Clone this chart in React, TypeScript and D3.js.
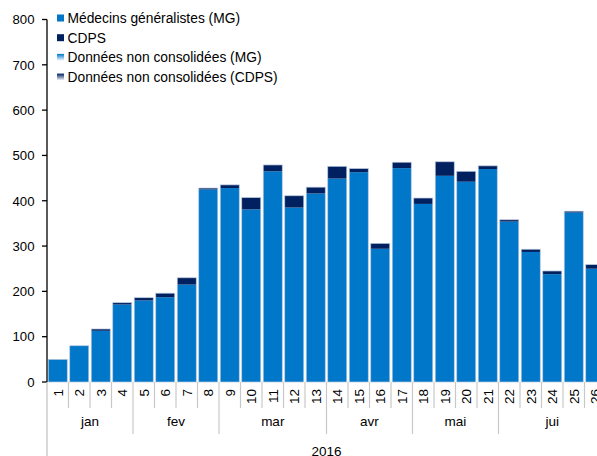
import * as d3 from 'd3';

const weeks = d3.range(1, 27).map(String);
const mgValues = [50, 80, 113, 171, 180, 187, 215, 425, 428, 381, 465, 385, 416, 449, 463, 294, 472, 393, 455, 442, 470, 354, 287, 238, 374, 250];
const cdpsValues = [0, 0, 4, 4, 6, 9, 15, 3, 7, 26, 14, 26, 14, 27, 8, 12, 13, 13, 31, 23, 7, 4, 6, 7, 3, 9];
const months = [
  { label: 'jan', from: 0, to: 4 },
  { label: 'fev', from: 4, to: 8 },
  { label: 'mar', from: 8, to: 13 },
  { label: 'avr', from: 13, to: 17 },
  { label: 'mai', from: 17, to: 21 },
  { label: 'jui', from: 21, to: 26 },
];
const yearLabel = '2016';
const yTicks = [0, 100, 200, 300, 400, 500, 600, 700, 800];
const legendItems = ['Médecins généralistes (MG)', 'CDPS', 'Données non consolidées (MG)', 'Données non consolidées (CDPS)'];

const MG = '#0077c8';
const CDPS = '#002060';
const FONT = '"Liberation Sans", Arial, sans-serif';

export default function App() {
  const width = 597;
  const height = 456;
  const x0 = 47;
  const step = 21.5;
  const x1 = x0 + step * weeks.length;

  const x = d3.scaleBand<string>().domain(weeks).range([x0, x1]).paddingInner(0.116).paddingOuter(0.058);
  const y = d3.scaleLinear().domain([0, 800]).range([382, 19.5]);
  const edge = (i: number) => x0 + i * x.step();

  return (
    <div style={{ position: 'absolute', left: 0, top: 0 }}>
      <svg width={width} height={height} style={{ display: 'block', fontFamily: FONT }}>
        <defs>
          <linearGradient id="gMG" x1="0" y1="0" x2="0" y2="1">
            <stop offset="0" stopColor={MG} />
            <stop offset="1" stopColor="#ffffff" />
          </linearGradient>
          <linearGradient id="gCDPS" x1="0" y1="0" x2="0" y2="1">
            <stop offset="0" stopColor={CDPS} />
            <stop offset="1" stopColor="#ffffff" />
          </linearGradient>
        </defs>

        {/* bars */}
        {weeks.map((w, i) => {
          const bx = x(w) || 0;
          const bw = x.bandwidth();
          const mgTop = y(mgValues[i]);
          const totTop = y(mgValues[i] + cdpsValues[i]);
          return (
            <g key={w}>
              <rect x={bx} y={mgTop} width={bw} height={y(0) - mgTop} fill={MG} />
              {cdpsValues[i] > 0 && (
                <rect x={bx} y={totTop} width={bw} height={mgTop - totTop} fill={CDPS} />
              )}
              <rect x={bx} y={totTop} width={bw} height={y(0) - totTop} fill="none" stroke="#b9c9dd" strokeWidth={0.7} />
            </g>
          );
        })}

        {/* y axis */}
        <line x1={x0} x2={x0} y1={y(800)} y2={y(0)} stroke="#000" strokeWidth={1.3} />
        {yTicks.map((t) => (
          <g key={t}>
            <line x1={x0 - 5} x2={x0} y1={y(t)} y2={y(t)} stroke="#000" strokeWidth={1.3} />
            <text x={34.5} y={y(t)} dy="0.36em" textAnchor="end" fontSize={13.2} fill="#000">
              {t}
            </text>
          </g>
        ))}

        {/* category axis lines */}
        <line x1={x0} x2={x0} y1={y(0)} y2={height} stroke="#c0c0c0" strokeWidth={1.2} />
        {weeks.map((w, i) => {
          const isMonthEdge = months.some((m) => m.to === i + 1);
          return (
            <line
              key={'t' + w}
              x1={edge(i + 1)}
              x2={edge(i + 1)}
              y1={y(0)}
              y2={isMonthEdge ? 434 : 408}
              stroke="#c8c8c8"
              strokeWidth={1.2}
            />
          );
        })}
        {weeks.map((w) => {
          const cx = (x(w) || 0) + x.bandwidth() / 2;
          return (
            <text
              key={'l' + w}
              transform={`translate(${cx},389) rotate(-90)`}
              textAnchor="end"
              dy="0.36em"
              fontSize={13.5}
              fill="#000"
            >
              {w}
            </text>
          );
        })}
        {months.map((m) => (
          <text key={m.label} x={(edge(m.from) + edge(m.to)) / 2} y={426} textAnchor="middle" fontSize={13.5} fill="#000">
            {m.label}
          </text>
        ))}
        <text x={(x0 + x1) / 2} y={456} textAnchor="middle" fontSize={13.5} fill="#000">
          {yearLabel}
        </text>

        {/* legend */}
        {legendItems.map((label, i) => {
          const cy = 18 + i * 19.7;
          const fill = i === 0 ? MG : i === 1 ? CDPS : i === 2 ? 'url(#gMG)' : 'url(#gCDPS)';
          return (
            <g key={label}>
              <rect x={57} y={cy - 3.5} width={7} height={7} fill={fill} />
              <text x={67.5} y={cy} dy="0.36em" fontSize={13.8} fill="#000">
                {label}
              </text>
            </g>
          );
        })}
      </svg>
    </div>
  );
}
